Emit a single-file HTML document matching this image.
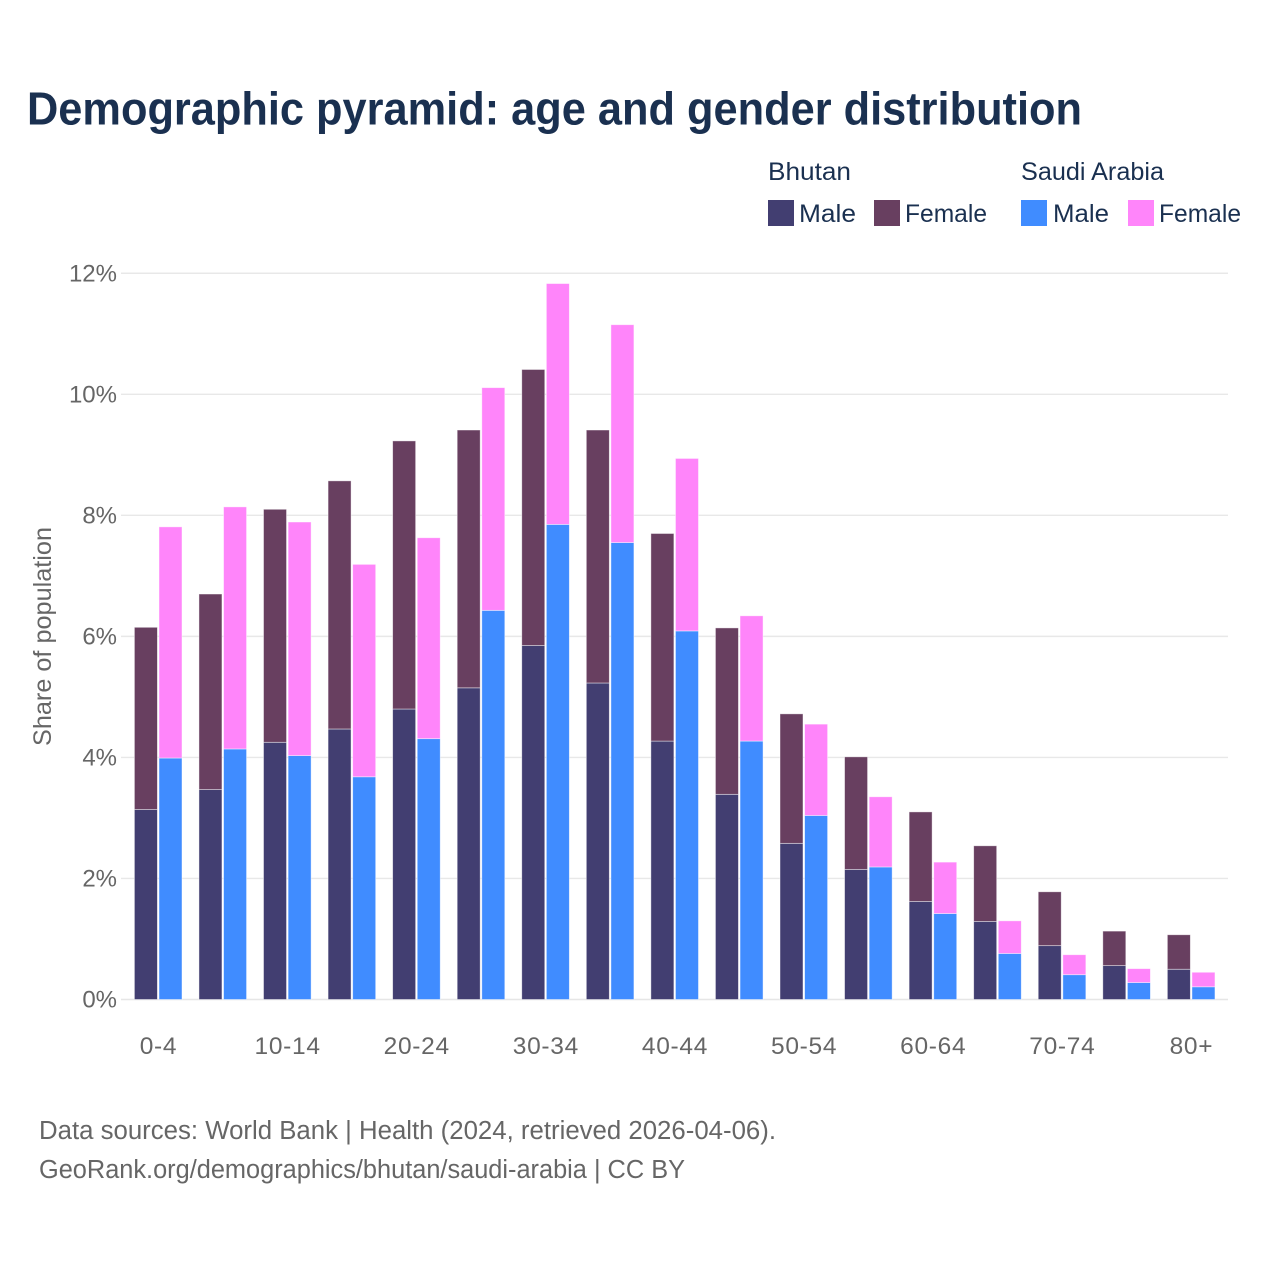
<!DOCTYPE html>
<html lang="en">
<head>
<meta charset="utf-8">
<title>Demographic pyramid</title>
<style>
html,body{margin:0;padding:0;background:#fff;}
svg{display:block;font-family:"Liberation Sans",sans-serif;}
</style>
</head>
<body>
<svg id="chart" width="1280" height="1280" viewBox="0 0 1280 1280" xmlns="http://www.w3.org/2000/svg">
  <rect width="1280" height="1280" fill="#ffffff"/>
  <text x="27" y="124.5" font-size="46" font-weight="700" fill="#1a3050" textLength="1055" lengthAdjust="spacingAndGlyphs">Demographic pyramid: age and gender distribution</text>

  <g font-size="25" fill="#1a3050">
    <text x="768" y="180" textLength="83" lengthAdjust="spacingAndGlyphs">Bhutan</text>
    <text x="1021" y="180" textLength="143" lengthAdjust="spacingAndGlyphs">Saudi Arabia</text>
    <rect x="768" y="200" width="26" height="26" fill="#423e71"/>
    <text x="799" y="222" textLength="57" lengthAdjust="spacingAndGlyphs">Male</text>
    <rect x="874" y="200" width="26" height="26" fill="#683f60"/>
    <text x="905" y="222" textLength="82" lengthAdjust="spacingAndGlyphs">Female</text>
    <rect x="1021" y="200" width="26" height="26" fill="#408cff"/>
    <text x="1053" y="222" textLength="56" lengthAdjust="spacingAndGlyphs">Male</text>
    <rect x="1128" y="200" width="26" height="26" fill="#ff85fa"/>
    <text x="1159" y="222" textLength="82" lengthAdjust="spacingAndGlyphs">Female</text>
  </g>

  <g id="grid"></g>
  <g id="yticks" font-size="24" fill="#666666" text-anchor="end"></g>
  <g id="bars"></g>
  <g id="xticks" font-size="24.5" letter-spacing="0.7" fill="#666666" text-anchor="middle"></g>

  <text transform="translate(51,636.5) rotate(-90)" font-size="25" fill="#666666" text-anchor="middle" textLength="219" lengthAdjust="spacingAndGlyphs">Share of population</text>

  <text x="39" y="1139" font-size="25.5" fill="#666666" textLength="737" lengthAdjust="spacingAndGlyphs">Data sources: World Bank | Health (2024, retrieved 2026-04-06).</text>
  <text x="39" y="1178" font-size="25.5" fill="#666666" textLength="646" lengthAdjust="spacingAndGlyphs">GeoRank.org/demographics/bhutan/saudi-arabia | CC BY</text>
</svg>
<script>
const categories = ["0-4","5-9","10-14","15-19","20-24","25-29","30-34","35-39","40-44","45-49","50-54","55-59","60-64","65-69","70-74","75-79","80+"];
const shownCategories = ["0-4","10-14","20-24","30-34","40-44","50-54","60-64","70-74","80+"];
const bhutanMale = [3.14,3.47,4.25,4.47,4.80,5.15,5.85,5.23,4.27,3.39,2.58,2.15,1.62,1.29,0.89,0.56,0.50];
const bhutanFemale = [3.01,3.23,3.85,4.10,4.43,4.26,4.56,4.18,3.43,2.75,2.14,1.86,1.48,1.25,0.89,0.57,0.57];
const saudiMale = [3.99,4.14,4.03,3.68,4.31,6.43,7.85,7.55,6.09,4.27,3.04,2.19,1.42,0.76,0.41,0.28,0.21];
const saudiFemale = [3.82,4.00,3.86,3.51,3.32,3.68,3.98,3.60,2.85,2.07,1.51,1.16,0.85,0.54,0.33,0.23,0.24];
const yTicks = [0,2,4,6,8,10,12];

const NS = "http://www.w3.org/2000/svg";
const yScale = v => 999.5 - v * 60.52;
const xScale = i => 158.2 + i * 64.56;
const BAR_W = 23;
const GAP = 1.6;

function make(tag, attrs, parent) {
  const el = document.createElementNS(NS, tag);
  for (const k in attrs) el.setAttribute(k, attrs[k]);
  parent.appendChild(el);
  return el;
}

const gridG = document.getElementById("grid");
const yG = document.getElementById("yticks");
yTicks.forEach(t => {
  const line = make("line", {x1: 121, x2: 1228, y1: yScale(t), y2: yScale(t), stroke: t === 0 ? "#e6e6e6" : "#e8e8e8", "stroke-width": 1.4}, gridG);
  
  
  const label = make("text", {x: 117, y: yScale(t) + 8}, yG);
  
  
  label.textContent = t + "%";
});

const barsG = document.getElementById("bars");
function bar(x, v0, v1, fill, name) {
  const r = make("rect", {x: x, y: yScale(v1), width: BAR_W, height: yScale(v0) - yScale(v1), fill: fill, stroke: "#ffffff", "stroke-opacity": 0.55, "stroke-width": 0.8}, barsG);
  
  
}
categories.forEach((c, i) => {
  const cx = xScale(i);
  const x1 = cx - GAP / 2 - BAR_W;
  const x2 = cx + GAP / 2;
  bar(x1, 0, bhutanMale[i], "#423e71", "bar-bhutan-male");
  bar(x1, bhutanMale[i], bhutanMale[i] + bhutanFemale[i], "#683f60", "bar-bhutan-female");
  bar(x2, 0, saudiMale[i], "#408cff", "bar-saudi-male");
  bar(x2, saudiMale[i], saudiMale[i] + saudiFemale[i], "#ff85fa", "bar-saudi-female");
});

const xG = document.getElementById("xticks");
shownCategories.forEach(c => {
  const label = make("text", {x: xScale(categories.indexOf(c)) + 0.3, y: 1054}, xG);
  
  
  label.textContent = c;
});
</script>
</body>
</html>
